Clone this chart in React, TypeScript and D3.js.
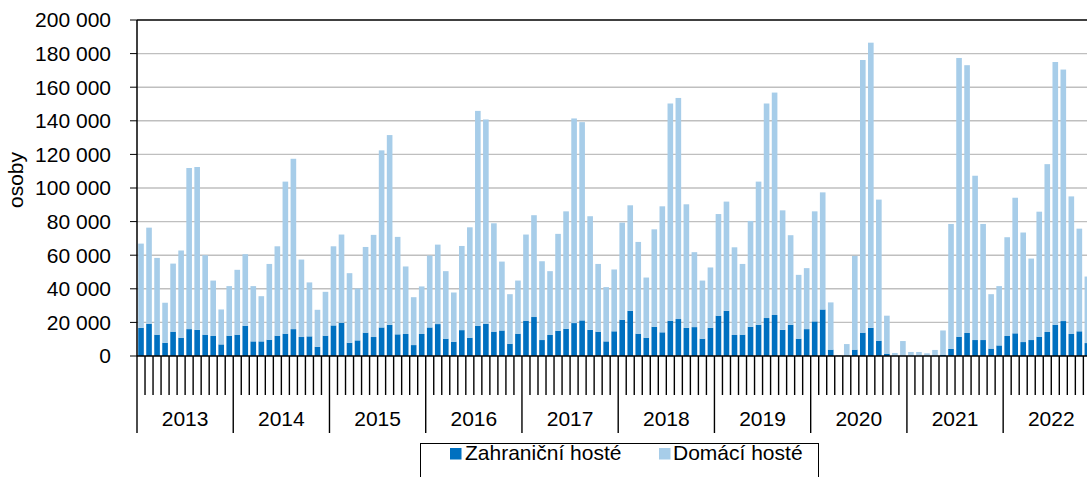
import React from 'react';
import * as d3 from 'd3';

// monthly data 2013-2022, persons
const years = ['2013', '2014', '2015', '2016', '2017', '2018', '2019', '2020', '2021', '2022'];

const foreign = [
  16800, 19200, 12700, 7900, 14500, 10900, 16000, 15600, 12700, 11900, 6900, 12100,
  12700, 18000, 8700, 8700, 9700, 12100, 13300, 16000, 11300, 11700, 5500, 12100,
  18200, 19800, 7900, 9300, 13900, 11300, 17000, 18600, 12900, 13100, 6500, 13100,
  17000, 19000, 10300, 8500, 15400, 10900, 18000, 19200, 14500, 15200, 7300, 13300,
  21000, 23200, 9500, 12500, 15000, 16200, 19600, 21200, 15600, 14500, 8700, 14700,
  21600, 26900, 13300, 10900, 17400, 14100, 21000, 22000, 16800, 17200, 10300, 16800,
  24000, 26900, 12500, 12700, 17400, 18600, 22600, 24400, 15600, 18600, 10300, 16000,
  20600, 27700, 3800, 200, 300, 3800, 13900, 16800, 9100, 1400, 100, 200,
  100, 100, 100, 200, 800, 4200, 11500, 13700, 9500, 9500, 4400, 6300,
  11900, 13500, 8300, 9500, 11500, 14300, 18600, 20800, 13100, 14700, 7700, 12000,
];

const domestic = [
  50100, 57200, 45700, 23800, 40500, 51900, 95900, 96900, 47300, 33000, 20800, 29500,
  38600, 42600, 32900, 26900, 45100, 53200, 90500, 101400, 46100, 32100, 22000, 26100,
  47100, 52500, 41400, 30900, 51000, 60800, 105400, 112900, 58000, 40200, 28500, 28300,
  42800, 47300, 40200, 29300, 50100, 65700, 127900, 121600, 64500, 41000, 29500, 31600,
  51300, 60600, 46900, 38000, 57700, 69900, 121800, 118000, 67600, 40300, 32300, 36800,
  57800, 62800, 54600, 35800, 58000, 75000, 129300, 131600, 73500, 44600, 34600, 35900,
  60500, 65000, 52200, 42100, 63000, 85200, 127700, 132400, 71100, 53300, 38000, 36300,
  65500, 69700, 28100, 300, 6800, 55800, 162300, 169700, 84000, 22600, 1700, 8700,
  2300, 2300, 1500, 3400, 14400, 74400, 165900, 159400, 97800, 69100, 32400, 35300,
  58800, 80700, 65200, 48500, 74400, 99900, 156400, 149700, 81900, 61100, 39600, 40000,
];

const yTicks = [0, 20000, 40000, 60000, 80000, 100000, 120000, 140000, 160000, 180000, 200000];
const seriesNames = ['Zahraniční hosté', 'Domácí hosté'];
const colors = ['#0070c0', '#a7cde9'];

const FONT = '"Liberation Sans", Arial, Helvetica, sans-serif';
const FS = 21;

export default function App() {
  const left = 137;
  const step = 8.02;
  const right = left + step * foreign.length;
  const top = 20;
  const bottom = 356;

  const rows = foreign.map((f, i) => ({ i, f, d: domestic[i] }));
  const x = d3.scaleBand<number>()
    .domain(rows.map(r => r.i))
    .range([left, right])
    .paddingInner(0.3)
    .paddingOuter(0.15);
  const y = d3.scaleLinear().domain([0, 200000]).range([bottom, top]);

  const stacked = d3.stack<any>().keys(['f', 'd'])(rows);
  const fmt = (v: number) => d3.format(',')(v).replace(/,/g, ' ');

  return (
    <div style={{ position: 'absolute', left: 0, top: 0, width: 1087, height: 477, overflow: 'hidden', background: '#fff' }}>
      <svg width={1110} height={477} style={{ fontFamily: FONT }}>
        {/* grid */}
        {yTicks.filter(t => t > 0 && t < 200000).map(t => (
          <line key={t} x1={left} x2={1110} y1={y(t)} y2={y(t)} stroke="#bfbfbf" strokeWidth={1.4} />
        ))}

        {/* bars */}
        {stacked.map((s, k) => (
          <g key={k} fill={colors[k]}>
            {s.map((d, i) => (
              <rect key={i} x={x(i)} width={x.bandwidth()} y={y(d[1])} height={Math.max(0, y(d[0]) - y(d[1]))} />
            ))}
          </g>
        ))}

        {/* frame */}
        <line x1={left} x2={1110} y1={top} y2={top} stroke="#000" strokeWidth={1.5} />
        <line x1={left} x2={left} y1={top} y2={bottom} stroke="#000" strokeWidth={1.5} />
        <line x1={left} x2={1110} y1={bottom} y2={bottom} stroke="#000" strokeWidth={1.5} />

        {/* y axis */}
        {yTicks.map(t => (
          <g key={t}>
            <line x1={130} x2={left} y1={y(t)} y2={y(t)} stroke="#000" strokeWidth={1} />
            <text x={111} y={y(t)} dy="0.35em" textAnchor="end" fontSize={FS} fill="#000">{fmt(t)}</text>
          </g>
        ))}
        <text transform={`translate(23,180) rotate(-90)`} textAnchor="middle" fontSize={FS} fill="#000">osoby</text>

        {/* x axis: month ticks and year separators */}
        {d3.range(foreign.length + 1).map(k => {
          const xx = k < foreign.length ? x(k)! - x.step() * x.paddingInner() / 2 : right;
          const isYear = k % 12 === 0;
          return <line key={k} x1={xx} x2={xx} y1={bottom} y2={isYear ? 433 : 395} stroke="#000" strokeWidth={1.4} />;
        })}
        {years.map((yr, j) => {
          const x0 = x(j * 12)! - x.step() * x.paddingInner() / 2;
          return (
            <text key={yr} x={x0 + x.step() * 6} y={426} textAnchor="middle" fontSize={FS} fill="#000">{yr}</text>
          );
        })}

        {/* legend */}
        <rect x={420.5} y={443.5} width={398} height={50} fill="#fff" stroke="#000" strokeWidth={1} />
        <rect x={450} y={448} width={11.5} height={11.5} fill={colors[0]} />
        <text x={465} y={459.5} fontSize={FS} fill="#000">{seriesNames[0]}</text>
        <rect x={659} y={448} width={11.5} height={11.5} fill={colors[1]} />
        <text x={673} y={459.5} fontSize={FS} fill="#000">{seriesNames[1]}</text>
      </svg>
    </div>
  );
}
